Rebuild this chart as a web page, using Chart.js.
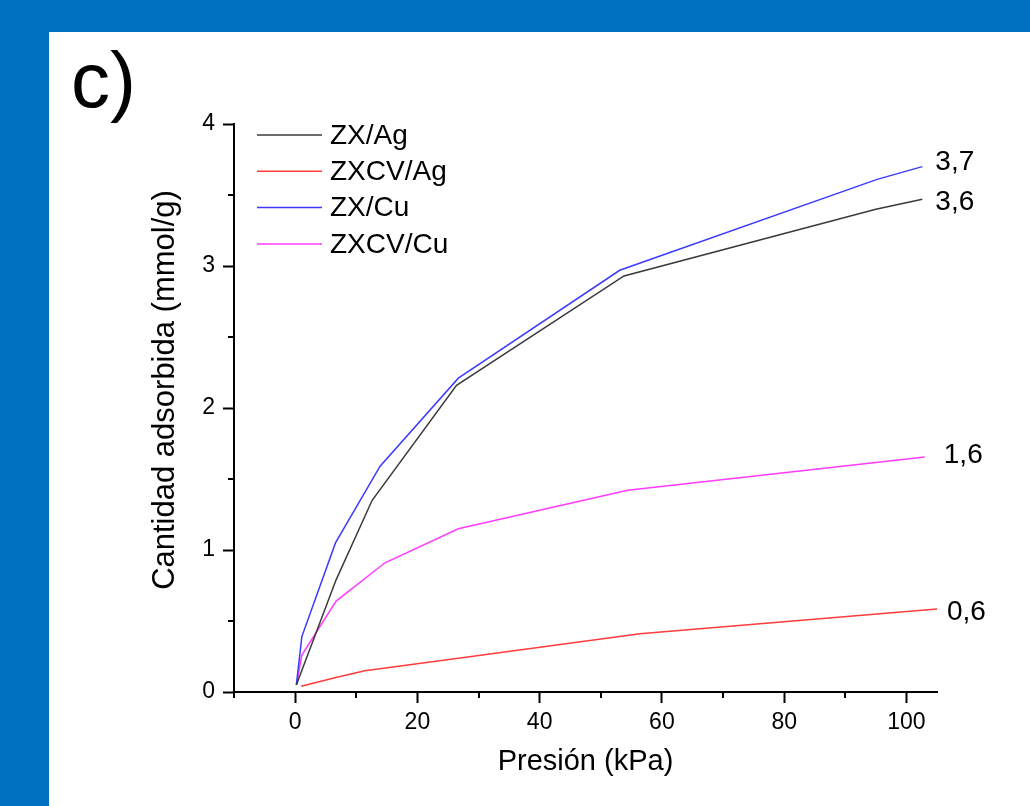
<!DOCTYPE html>
<html>
<head>
<meta charset="utf-8">
<script src="https://cdn.jsdelivr.net/npm/chart.js@4.4.1/dist/chart.umd.min.js"></script>
<style>
  html, body { margin: 0; padding: 0; background: #0070C0; width: 1030px; height: 806px; overflow: hidden; }
  #wrap { position: absolute; left: 49px; top: 32px; width: 981px; height: 774px; background: #ffffff; }
  canvas { display: block; }
</style>
</head>
<body>
<div id="wrap"><canvas id="c" width="981" height="774"></canvas></div>
<script>
// ---- data ----
const seriesNames = ['ZX/Ag', 'ZXCV/Ag', 'ZX/Cu', 'ZXCV/Cu'];
const endLabels   = ['3,6', '0,6', '3,7', '1,6'];

const zxAgX   = [0.2, 6.7, 12.6, 26.4, 53.8, 95.0, 102.6];
const zxAgY   = [0.05, 0.79, 1.35, 2.16, 2.93, 3.40, 3.47];

const zxcvAgX = [1.0, 6.5, 11.4, 27.0, 56.4, 105.0];
const zxcvAgY = [0.04, 0.10, 0.15, 0.24, 0.41, 0.585];

const zxCuX   = [0.2, 1.1, 6.6, 13.9, 26.7, 53.1, 95.2, 102.6];
const zxCuY   = [0.05, 0.39, 1.05, 1.59, 2.21, 2.97, 3.61, 3.70];

const zxcvCuX = [0.2, 1.1, 6.7, 14.7, 26.7, 54.4, 103.0];
const zxcvCuY = [0.05, 0.26, 0.64, 0.91, 1.15, 1.42, 1.655];

const xMajorTicks = [0, 20, 40, 60, 80, 100];
const xMinorTicks = [-10, 10, 30, 50, 70, 90];
const yMajorTicks = [0, 1, 2, 3, 4];
const yMinorTicks = [0.5, 1.5, 2.5, 3.5];

const colors = ['#3a3a3a', '#ff3b3b', '#3b3bff', '#ff3bff'];
const FONT = '"Liberation Sans", Arial, sans-serif';
// label nudges (pixels) for the end-value annotations
const labelDx = [13, 10, 13, 19];
const labelDy = [3, 3, -4, -2];

function pts(xs, ys) { return xs.map((x, i) => ({ x: x, y: ys[i] })); }
const allX = [zxAgX, zxcvAgX, zxCuX, zxcvCuX];
const allY = [zxAgY, zxcvAgY, zxCuY, zxcvCuY];

const datasets = seriesNames.map((name, i) => ({
  label: name,
  data: pts(allX[i], allY[i]),
  borderColor: colors[i],
  backgroundColor: colors[i],
  borderWidth: 1.5,
  pointRadius: 0,
  tension: 0,
  fill: false
}));

const extras = {
  id: 'extras',
  afterDraw(chart) {
    const ctx = chart.ctx;
    const xs = chart.scales.x, ys = chart.scales.y;
    ctx.save();
    // minor ticks
    ctx.strokeStyle = '#000';
    ctx.lineWidth = 2;
    ctx.beginPath();
    xMinorTicks.forEach(v => {
      const px = Math.round(xs.getPixelForValue(v));
      ctx.moveTo(px, xs.top); ctx.lineTo(px, xs.top + 6);
    });
    yMinorTicks.forEach(v => {
      const py = Math.round(ys.getPixelForValue(v));
      ctx.moveTo(ys.right, py); ctx.lineTo(ys.right - 6, py);
    });
    ctx.stroke();

    // legend
    ctx.font = '28px ' + FONT;
    ctx.textBaseline = 'middle';
    ctx.textAlign = 'left';
    seriesNames.forEach((name, i) => {
      const y = 103 + i * 36.3;
      ctx.strokeStyle = colors[i];
      ctx.lineWidth = 1.5;
      ctx.beginPath();
      ctx.moveTo(208, y); ctx.lineTo(273, y);
      ctx.stroke();
      ctx.fillStyle = '#000';
      ctx.fillText(name, 281, y + 1);
    });

    // end value labels
    chart.data.datasets.forEach((ds, i) => {
      const last = ds.data[ds.data.length - 1];
      const px = xs.getPixelForValue(last.x);
      const py = ys.getPixelForValue(last.y);
      ctx.fillStyle = '#000';
      ctx.fillText(endLabels[i], px + labelDx[i], py + labelDy[i]);
    });

    // y axis title
    ctx.save();
    ctx.font = '31px ' + FONT;
    ctx.textAlign = 'center';
    ctx.textBaseline = 'middle';
    ctx.translate(116, 358);
    ctx.rotate(-Math.PI / 2);
    ctx.fillText('Cantidad adsorbida (mmol/g)', 0, 0);
    ctx.restore();

    // panel letter
    ctx.font = '78px ' + FONT;
    ctx.textBaseline = 'alphabetic';
    ctx.textAlign = 'left';
    ctx.fillText('c)', 22, 75);
    ctx.restore();
  }
};

new Chart(document.getElementById('c'), {
  type: 'line',
  data: { datasets: datasets },
  options: {
    responsive: false,
    animation: false,
    layout: { padding: { left: 97, top: 92, right: 93, bottom: 23 } },
    plugins: { legend: { display: false }, tooltip: { enabled: false } },
    scales: {
      x: {
        type: 'linear',
        min: -10, max: 105,
        afterBuildTicks: s => { s.ticks = xMajorTicks.map(v => ({ value: v })); },
        afterFit: s => { s.height = 91; },
        grid: { drawOnChartArea: false, tickLength: 11, tickWidth: 2, tickColor: '#000', color: '#000' },
        border: { display: true, color: '#000', width: 2 },
        ticks: { color: '#000', font: { family: FONT, size: 23 }, padding: 6, maxRotation: 0 },
        title: { display: true, text: 'Presión (kPa)', color: '#000', font: { family: FONT, size: 29 }, padding: { top: 4, bottom: 4 } }
      },
      y: {
        type: 'linear',
        min: 0, max: 4,
        afterBuildTicks: s => { s.ticks = yMajorTicks.map(v => ({ value: v })); },
        afterFit: s => { s.width = 88; },
        grid: { drawOnChartArea: false, tickLength: 11, tickWidth: 2, tickColor: '#000', color: '#000' },
        border: { display: true, color: '#000', width: 2 },
        ticks: { color: '#000', font: { family: FONT, size: 23 }, padding: 8 },
        title: { display: false }
      }
    }
  },
  plugins: [extras]
});
</script>
</body>
</html>
